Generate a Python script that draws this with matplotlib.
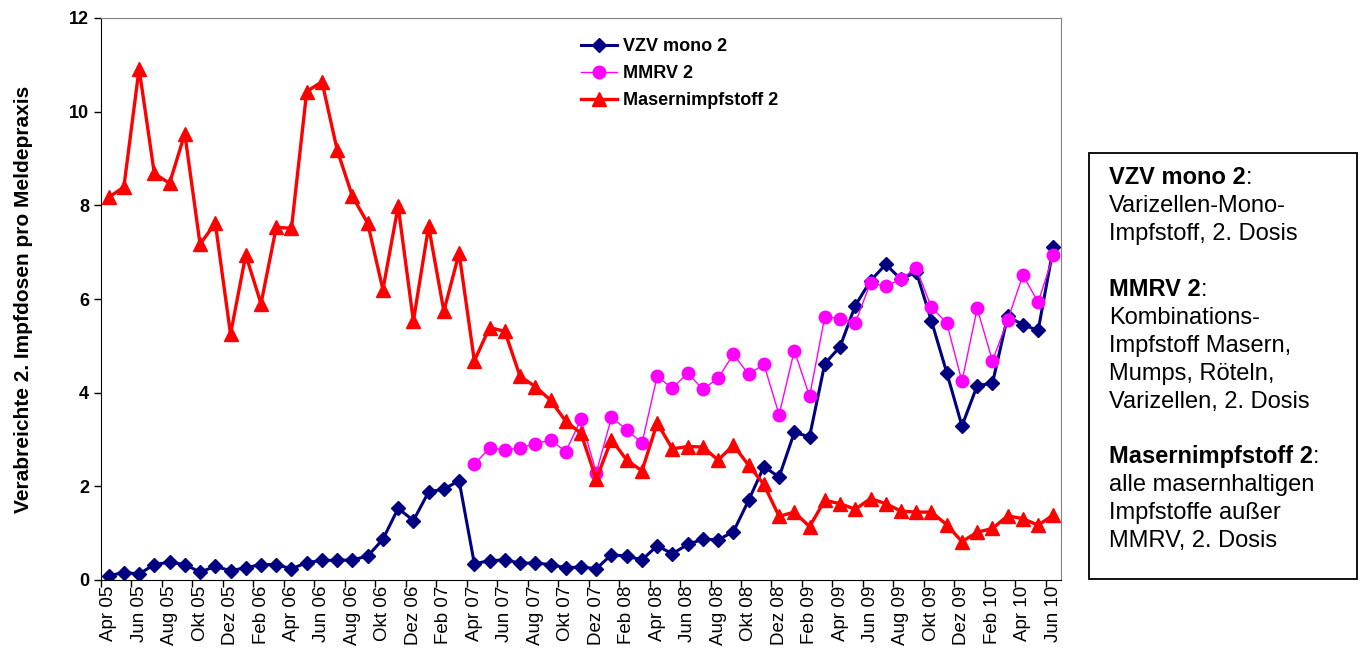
import numpy as np
import matplotlib
matplotlib.use("Agg")
from matplotlib import pyplot as plt
from matplotlib.patches import Rectangle

plt.rcParams['font.family'] = ['Liberation Sans', 'DejaVu Sans']

# monatlich, Apr 05 .. Jun 10
months = ['Jan', 'Feb', 'Mrz', 'Apr', 'Mai', 'Jun', 'Jul', 'Aug', 'Sep', 'Okt', 'Nov', 'Dez']
labels = []
for k in range(63):
    m = (3 + k) % 12
    y = 5 + (3 + k) // 12
    labels.append('%s %02d' % (months[m], y))

vzv = [0.09, 0.16, 0.13, 0.33, 0.38, 0.33, 0.17, 0.29, 0.20, 0.26,
       0.33, 0.33, 0.24, 0.37, 0.42, 0.42, 0.43, 0.51, 0.87, 1.53,
       1.27, 1.88, 1.94, 2.12, 0.35, 0.41, 0.43, 0.36, 0.36, 0.33,
       0.26, 0.28, 0.24, 0.54, 0.51, 0.43, 0.73, 0.56, 0.76, 0.87,
       0.86, 1.03, 1.70, 2.42, 2.20, 3.15, 3.06, 4.62, 4.98, 5.86,
       6.39, 6.74, 6.42, 6.58, 5.53, 4.43, 3.29, 4.15, 4.20, 5.63,
       5.45, 5.33, 7.10]

mmrv = [np.nan] * 24 + [
       2.47, 2.82, 2.78, 2.82, 2.91, 2.99, 2.74, 3.43, 2.29, 3.47,
       3.21, 2.92, 4.35, 4.09, 4.42, 4.07, 4.31, 4.82, 4.39, 4.61,
       3.53, 4.90, 3.92, 5.62, 5.58, 5.49, 6.35, 6.27, 6.43, 6.66,
       5.82, 5.49, 4.24, 5.80, 4.68, 5.55, 6.51, 5.93, 6.94]

masern = [8.17, 8.39, 10.92, 8.68, 8.47, 9.53, 7.17, 7.62, 5.25, 6.94,
          5.90, 7.53, 7.51, 10.43, 10.64, 9.18, 8.19, 7.62, 6.20, 7.98,
          5.53, 7.55, 5.74, 6.98, 4.68, 5.39, 5.31, 4.35, 4.13, 3.84,
          3.39, 3.13, 2.15, 3.00, 2.56, 2.33, 3.35, 2.80, 2.85, 2.84,
          2.56, 2.88, 2.45, 2.04, 1.36, 1.45, 1.14, 1.70, 1.63, 1.51,
          1.74, 1.63, 1.47, 1.45, 1.45, 1.18, 0.82, 1.02, 1.10, 1.37,
          1.31, 1.17, 1.39]

x = np.arange(len(labels))

fig = plt.figure(figsize=(13.6, 6.5), dpi=100)
ax = fig.add_axes([101 / 1360, 70 / 650, 960 / 1360, 562 / 650])

ax.plot(x, vzv, color='#000080', lw=2.2, marker='D', ms=7, label='VZV mono 2')
ax.plot(x, mmrv, color='#FF00FF', lw=1.0, marker='o', ms=9, label='MMRV 2')
ax.plot(x, masern, color='#FF0000', lw=2.4, marker='^', ms=10, label='Masernimpfstoff 2')

ax.set_xlim(-0.5, len(labels) - 0.5)
ax.set_ylim(0, 12)
ax.set_yticks(np.arange(0, 13, 2))
ax.set_yticklabels([str(v) for v in range(0, 13, 2)], fontweight='bold', fontsize=13)
ax.tick_params(axis='y', direction='out', length=5, width=1)

ax.set_xticks(x[::2])
ax.set_xticklabels(labels[::2], rotation=90, fontsize=13.5)
ax.tick_params(axis='x', which='major', length=0, pad=4)
ax.set_xticks(np.arange(-0.5, len(labels) - 1, 2), minor=True)
ax.tick_params(axis='x', which='minor', direction='out', length=5, width=1)

for s in ['top', 'right']:
    ax.spines[s].set_color('#808080')
for s in ['left', 'bottom']:
    ax.spines[s].set_color('black')

ax.set_ylabel('Verabreichte 2. Impfdosen pro Meldepraxis', fontweight='bold', fontsize=15, labelpad=26)

leg = ax.legend(loc='upper left', bbox_to_anchor=(565 / 1360, 1 - 22 / 650),
                bbox_transform=fig.transFigure, frameon=False,
                prop={'weight': 'bold', 'size': 13}, handlelength=2.0,
                labelspacing=0.55, handletextpad=0.3)

# Erlaeuterungskasten rechts
fig.patches.append(Rectangle((1089 / 1360, 71 / 650), 268 / 1360, 426 / 650,
                             transform=fig.transFigure, fill=False,
                             edgecolor='black', lw=1.3))

blocks = [
    ('VZV mono 2', ['Varizellen-Mono-', 'Impfstoff, 2. Dosis'], 178),
    ('MMRV 2', ['Kombinations-', 'Impfstoff Masern,', 'Mumps, Röteln,',
                'Varizellen, 2. Dosis'], 290),
    ('Masernimpfstoff 2', ['alle masernhaltigen', 'Impfstoffe außer',
                           'MMRV, 2. Dosis'], 457),
]
fs = 17
tx = 1109 / 1360
for head, lines, ypix in blocks:
    t = fig.text(tx, 1 - ypix / 650, head, fontsize=fs, fontweight='bold',
                 va='center', ha='left')
    ax.annotate(':', xy=(1, 0.5), xycoords=t, va='center', ha='left', fontsize=fs,
                annotation_clip=False)
    for i, line in enumerate(lines):
        fig.text(tx, 1 - (ypix + 28 * (i + 1)) / 650, line, fontsize=fs,
                 va='center', ha='left')

fig.savefig('out.png', dpi=100)
